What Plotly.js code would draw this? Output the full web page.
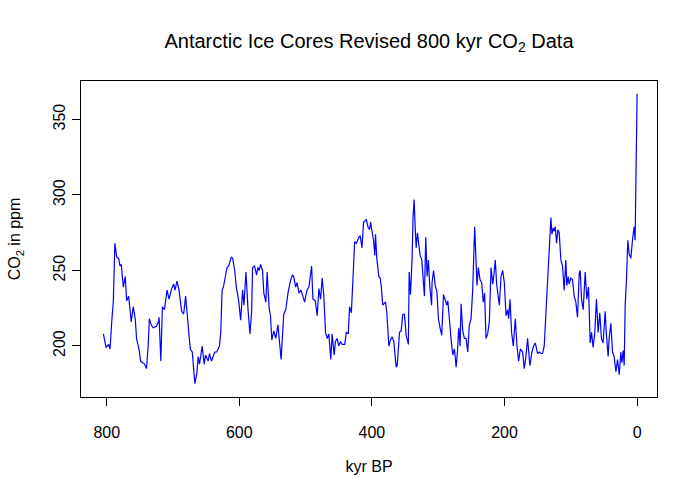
<!DOCTYPE html>
<html>
<head>
<meta charset="utf-8">
<script src="https://cdn.plot.ly/plotly-3.0.1.min.js"></script>
<style>html,body{margin:0;padding:0;background:#fff;}#chart{width:700px;height:500px;}</style>
</head>
<body>
<div id="chart"></div>
<script>
// Age in thousands of years before present (kyr BP)
const ageKyr = [
  805, 803, 801, 797, 795, 792.6, 790, 787.7, 785, 782, 780, 778, 775, 772, 770, 767, 763, 760, 757, 755,
  751, 749, 746, 743, 740, 737.5, 735.7, 733, 730, 725, 722, 721, 718.4, 716, 713, 709, 706, 702, 699, 697,
  694, 691, 687, 684, 681, 678, 674, 671, 667, 664, 662, 660, 656, 653, 651, 647, 645, 642, 637, 634,
  630, 628, 626, 624, 622, 618.5, 616, 612, 610, 607, 604.5, 601, 598, 595, 593, 590, 587, 584, 581.5, 580,
  577, 574, 572, 570, 568, 565, 563, 560, 558, 555, 553, 551, 548, 545, 541.7, 539, 537, 533, 530, 526.6,
  523, 520, 518, 515, 513, 510, 507, 501.5, 498, 495, 493, 491, 489, 485.5, 482.5, 480, 477.5, 475, 472.5, 470,
  467.5, 465, 462, 460, 457, 455, 452.5, 450, 447.5, 445, 441, 438.7, 435.7, 433.7, 431, 428.8, 426, 423.5, 422, 419.7,
  417.7, 415, 412.6, 409.6, 408.6, 406, 403.5, 402, 399.5, 397.5, 395.6, 394.6, 392.6, 389.6, 387.6, 386, 383.6, 379.5, 377.5, 374.5,
  372, 369.4, 367, 363.4, 361.9, 358.4, 355.9, 353.4, 350.9, 348.4, 345, 343.8, 341.8, 339.3, 338, 336.3, 334.8, 333.3, 331.3, 329.3,
  327.3, 324.8, 323.3, 320.8, 318.8, 316.8, 314.8, 312.8, 310, 309.3, 307, 304.5, 302, 299.7, 297.2, 294.7, 292, 289.5, 287, 285.5,
  283, 280.5, 278, 275.5, 273, 271, 269, 267, 265.5, 263, 260.5, 258, 255.5, 253, 250.5, 248, 245, 243, 241.5, 239.5,
  237, 234.5, 232, 230, 227.9, 225.4, 222.9, 220.3, 217.8, 215.8, 213.9, 211.9, 209.9, 207.8, 205.3, 202.8, 200.3, 197.7, 195.2, 193.7,
  191.7, 189.3, 186.8, 183.7, 181.2, 178.7, 176.2, 172.7, 170.2, 167.7, 165.2, 161.7, 158.7, 156.2, 153.6, 150.1, 147.6, 145.1, 142.6, 140.1,
  137.5, 135, 132.5, 130, 128.5, 126.5, 125, 123.5, 121.5, 119.5, 117.5, 115, 112.5, 110, 107.5, 106, 104, 102.5, 100, 97.5,
  94.9, 92.4, 89.9, 87.3, 85.8, 83.8, 81.3, 78.3, 75.8, 73.3, 70.8, 68.8, 66.3, 63.8, 61.3, 58.8, 56.3, 53.8, 51.3, 48.2,
  46.2, 43.7, 42.2, 39.6, 37.1, 34.6, 32, 29.5, 27, 24.5, 23, 21, 19.5, 18, 16, 14, 12, 9.5, 7, 4.5,
  3, 2.5, 0
];
// CO2 concentration in ppm
const co2Ppm = [
  208, 202, 199, 201, 198, 215, 230, 268, 259, 258, 253, 254, 239, 246, 230, 233, 216, 226, 218, 205,
  197, 190, 189, 188, 185, 200, 218, 214, 212, 213, 216, 219, 190, 226, 224, 237, 231, 238, 241, 237,
  243, 237, 223, 221, 233, 217, 198, 196, 175, 182, 193, 188, 200, 188, 194, 190, 195, 190, 196, 196,
  200, 209, 237, 239, 244, 252, 253, 259, 258, 250, 239, 230, 217, 237, 227, 249, 225, 208, 222, 252,
  253, 247, 252, 250, 254, 250, 235, 229, 249, 225, 220, 204, 210, 205, 214, 200, 191, 221, 224, 235,
  243, 247, 246, 239, 242, 235, 237, 229, 237, 239, 246, 253, 231, 230, 220, 238, 231, 245, 233, 209,
  205, 208, 191, 208, 194, 203, 205, 200, 203, 201, 201, 209, 208, 226, 222, 248, 269, 268, 270, 272,
  273, 265, 282, 283, 284, 279, 277, 282, 275, 270, 260, 274, 258, 246, 245, 240, 227, 229, 222, 200,
  204, 206, 203, 186, 187, 209, 210, 221, 221, 207, 201, 249, 234, 259, 285, 297, 279, 265, 275, 265,
  260, 257, 249, 233, 272, 246, 257, 240, 227, 242, 250, 240, 236, 218, 212, 207, 234, 231, 227, 230,
  214, 204, 194, 198, 186, 196, 212, 200, 228, 210, 205, 205, 196, 214, 218, 237, 279, 261, 240, 252,
  244, 242, 229, 235, 205, 208, 216, 252, 241, 248, 257, 241, 235, 227, 246, 250, 242, 220, 224, 218,
  231, 209, 200, 218, 200, 190, 198, 196, 185, 193, 205, 187, 196, 200, 202, 195, 196, 195, 195, 200,
  222, 246, 264, 285, 274, 278, 276, 279, 268, 277, 275, 257, 253, 237, 257, 240, 246, 241, 245, 244,
  233, 229, 219, 248, 250, 231, 224, 249, 231, 239, 202, 209, 199, 209, 231, 209, 222, 205, 202, 223,
  207, 193, 205, 215, 196, 193, 183, 191, 181, 196, 189, 197, 187, 227, 244, 270, 261, 258, 270, 279,
  270, 283, 367
];

const FONT = '"Liberation Sans", Arial, Helvetica, sans-serif';

const trace = {
  x: ageKyr,
  y: co2Ppm,
  type: 'scatter',
  mode: 'lines',
  line: {color: '#0000ff', width: 1.2},
  hoverinfo: 'x+y'
};

const layout = {
  width: 700,
  height: 500,
  margin: {l: 81, r: 43, t: 81, b: 103},
  paper_bgcolor: '#ffffff',
  plot_bgcolor: '#ffffff',
  showlegend: false,
  font: {family: FONT, size: 16, color: '#000000'},
  title: {
    text: 'Antarctic Ice Cores Revised 800 kyr CO<sub>2</sub> Data',
    font: {family: FONT, size: 20, color: '#000000'},
    x: 0.5, xref: 'paper', xanchor: 'center',
    y: 1 - 41 / 500, yref: 'container', yanchor: 'middle'
  },
  xaxis: {
    range: [838.8, -30],
    tickmode: 'array',
    tickvals: [800, 600, 400, 200, 0],
    ticktext: ['800', '600', '400', '200', '0'],
    ticks: 'outside', ticklen: 8, tickwidth: 1, tickcolor: '#000',
    showline: true, linecolor: '#000', linewidth: 1, mirror: true,
    showgrid: false, zeroline: false,
    ticklabelstandoff: 13,
    tickfont: {family: FONT, size: 16, color: '#000'},
    title: {text: 'kyr BP', font: {family: FONT, size: 16, color: '#000'}, standoff: 20},
    automargin: false
  },
  yaxis: {
    range: [166.2, 375.5],
    tickmode: 'array',
    tickvals: [200, 250, 300, 350],
    ticktext: ['200', '250', '300', '350'],
    tickangle: -90,
    ticks: 'outside', ticklen: 8, tickwidth: 1, tickcolor: '#000',
    showline: true, linecolor: '#000', linewidth: 1, mirror: true,
    showgrid: false, zeroline: false,
    ticklabelstandoff: 1,
    tickfont: {family: FONT, size: 16, color: '#000'},
    title: {text: 'CO<sub>2</sub> in ppm', font: {family: FONT, size: 16, color: '#000'}, standoff: 25},
    automargin: false
  }
};

Plotly.newPlot('chart', [trace], layout, {displayModeBar: false});
</script>
</body>
</html>
